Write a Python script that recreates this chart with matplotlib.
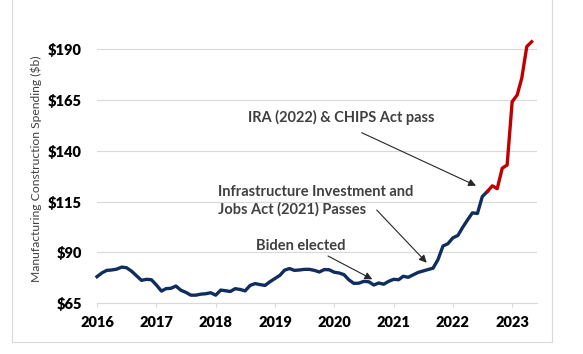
import matplotlib
matplotlib.use("Agg")
import matplotlib.pyplot as plt
import pandas as pd
from matplotlib.patches import Rectangle

W, H, DPI = 583, 354, 100

# monthly manufacturing construction spending, $b (Jan 2016 - May 2023)
months = pd.date_range("2016-01-01", "2023-05-01", freq="MS")
spending = [
    78.1, 80.0, 81.2, 81.4, 81.8, 82.8, 82.5, 80.8, 78.5, 76.3, 76.8, 76.6,
    74.0, 71.0, 72.2, 72.4, 73.5, 71.4, 70.4, 69.0, 69.0, 69.5, 69.7, 70.2,
    69.0, 71.5, 71.2, 70.8, 72.2, 71.8, 71.1, 73.8, 74.7, 74.2, 73.8, 75.6,
    77.2, 78.8, 81.3, 82.1, 81.2, 81.4, 81.7, 81.7, 81.2, 80.4, 81.6, 81.5,
    80.3, 79.9, 79.1, 76.5, 74.8, 74.9, 75.8, 75.6, 74.0, 75.0, 74.4, 75.8,
    76.8, 76.6, 78.3, 77.8, 79.0, 80.2, 80.9, 81.6, 82.3, 86.5, 93.2, 94.3,
    97.2, 98.4, 102.2, 106.0, 109.5, 109.2, 117.5, 120.0, 122.8, 121.4, 131.5, 133.0,
    164.2, 167.5, 175.7, 191.3, 193.7,
]
split = 79  # Aug 2022: IRA & CHIPS -> red segment
yticks = [65, 90, 115, 140, 165, 190]
years = list(range(2016, 2024))

TXT = "#404040"
GRID = "#d9d9d9"
FONT = "Lato"

fig = plt.figure(figsize=(W / DPI, H / DPI), dpi=DPI)


def px(x, y):
    return x / W, 1 - y / H


# chart area border (top edge sits just above the image)
fig.patches.append(Rectangle(px(12, 342), 540 / W, 346 / H, transform=fig.transFigure,
                             fill=False, edgecolor=GRID, lw=0.8))

l, b = px(97, 303.3)
r, t = px(537, 39.1)
ax = fig.add_axes([l, b, r - l, t - b])

ax.plot(months[:split + 1], spending[:split + 1], color="#0f2d5e", lw=2.4,
        solid_joinstyle="round", clip_on=False)
ax.plot(months[split:], spending[split:], color="#c00000", lw=2.4,
        solid_joinstyle="round", clip_on=False)

ax.set_ylim(65, 195)
ax.set_xlim(pd.Timestamp("2016-01-01"), pd.Timestamp("2023-06-03"))
ax.set_yticks(yticks)
ax.set_yticklabels([f"${v}" for v in yticks])
ax.set_xticks([pd.Timestamp(f"{y}-01-01") for y in years])
ax.set_xticklabels([str(y) for y in years])
ax.yaxis.grid(True, color=GRID, lw=0.8)
ax.set_axisbelow(True)
for s in ["top", "right", "left"]:
    ax.spines[s].set_visible(False)
ax.spines["bottom"].set_color(GRID)
ax.spines["bottom"].set_linewidth(0.8)
ax.tick_params(axis="y", length=0, pad=11)
ax.tick_params(axis="x", length=3, color=GRID, pad=6)
for lab in ax.get_xticklabels() + ax.get_yticklabels():
    lab.set_fontfamily(FONT)
    lab.set_fontweight("heavy")
    lab.set_fontsize(10.5)
    lab.set_color("black")

fig.text(36.7 / W, 1 - 169 / H, "Manufacturing Construction Spending ($b)",
         rotation=90, ha="center", va="center", fontsize=8.7, color=TXT, family=FONT)


def fr(x, y):
    return (x - 97) / 440, (303.3 - y) / 264.2


arrow = dict(arrowstyle="-|>", color="#262626", lw=0.8, mutation_scale=11,
             shrinkA=0, shrinkB=0)
ax.annotate("", xy=fr(476, 185.7), xytext=fr(361.7, 132.7),
            xycoords="axes fraction", arrowprops=arrow)
ax.annotate("", xy=fr(426.7, 262.7), xytext=fr(376.7, 210),
            xycoords="axes fraction", arrowprops=arrow)
ax.annotate("", xy=fr(372.3, 279.3), xytext=fr(328, 256),
            xycoords="axes fraction", arrowprops=arrow)

tkw = dict(transform=ax.transAxes, fontsize=10.5, fontweight="bold", color=TXT, family=FONT)
ax.text(*fr(341.5, 117.3), "IRA (2022) & CHIPS Act pass", ha="center", va="center", **tkw)
ax.text(*fr(218.3, 200.8), "Infrastructure Investment and\nJobs Act (2021) Passes",
        ha="left", va="center", linespacing=1.25, **tkw)
ax.text(*fr(300.7, 246), "Biden elected", ha="center", va="center", **tkw)

fig.savefig("out.png", dpi=DPI)
